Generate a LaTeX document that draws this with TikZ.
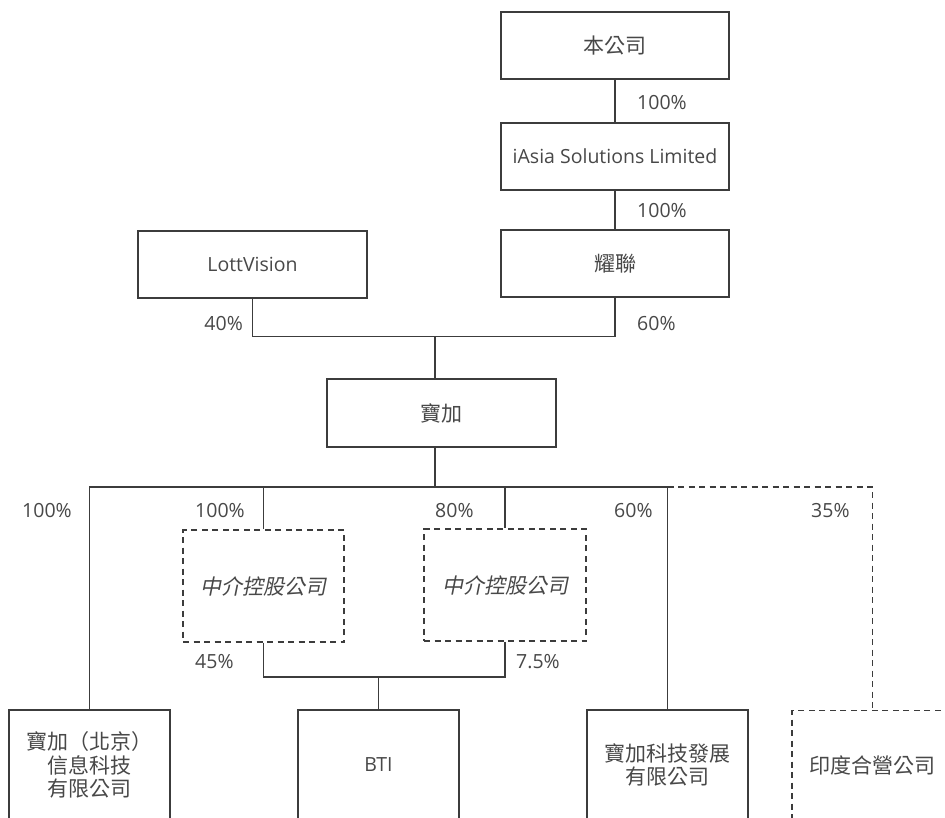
\documentclass[tikz,border=0pt]{standalone}
\usepackage{fontspec}
\setmainfont{Open Sans}
\newfontfamily\cjk{Noto Sans CJK TC}
\newfontfamily\cjkit{Noto Sans CJK TC}[FakeSlant=0.2]
\definecolor{linec}{RGB}{60,60,60}
\definecolor{textc}{RGB}{72,72,72}
\tikzset{
  box/.style={draw=linec, line width=1.1pt, rectangle, inner sep=0pt, text=textc, align=center,
              font=\cjk\fontsize{21}{23.5}\selectfont},
  latinbox/.style={box, font=\fontsize{19.5}{23}\selectfont},
  topbox/.style={minimum width=228pt, minimum height=67pt},
  midbox/.style={minimum width=161pt, minimum height=112pt},
  lowbox/.style={minimum width=161pt, minimum height=110pt},
  dashbox/.style={dash pattern=on 6pt off 4.5pt},
  italicbox/.style={font=\cjkit\fontsize{21}{23.5}\selectfont},
  conn/.style={draw=linec, line width=1.1pt},
  dconn/.style={conn, dash pattern=on 6pt off 4.5pt},
  pct/.style={inner sep=0pt, text=textc, font=\fontsize{19.5}{23}\selectfont}
}
\begin{document}
\begin{tikzpicture}[x=1pt,y=-1pt]
\useasboundingbox (0,0) rectangle (945,817);
\fill[white] (0,0) rectangle (945,817);
\clip (0,0) rectangle (945,817);

% top chain
\node[box, topbox] (top) at (615,45.5) {本公司};
\node[latinbox, topbox] (ia) at (615,156.5) {iAsia Solutions Limited};
\node[box, topbox] (yl) at (615,263.5) {耀聯};
\node[latinbox, topbox, minimum width=229pt] (lott) at (252.5,264.5) {LottVision};
\node[box, minimum width=229pt, minimum height=68pt] (bj) at (441.5,413) {寶加};

% intermediate holding companies
\node[box, midbox, dashbox, italicbox] (d1) at (263.5,586) {中介控股公司};
\node[box, midbox, dashbox, italicbox, minimum width=162pt] (d2) at (505,585) {中介控股公司};

% bottom row
\node[box, lowbox] (b1) at (89.5,765) {寶加（北京）\\信息科技\\有限公司};
\node[latinbox, lowbox] (bti) at (378.5,765) {BTI};
\node[box, lowbox] (b3) at (667.5,765) {寶加科技發展\\有限公司};
\node[box, lowbox, dashbox] (b4) at (872.5,765.5) {印度合營公司};

% connectors
\coordinate (j1) at (435,336.5);
\coordinate (bus) at (435,487);
\coordinate (j2) at (378.5,677);

\draw[conn] (top) -- (ia);
\draw[conn] (ia) -- (yl);
\draw[conn] (lott.south) |- (j1) -| (yl.south);
\draw[conn] (j1) -- (j1 |- bj.north);
\draw[conn] (bus |- bj.south) -- (bus);
\draw[conn] (b1.north) |- (b3.north |- bus) -- (b3.north);
\draw[dconn] (b3.north |- bus) -| (b4.north);
\draw[conn] (d1.north |- bus) -- (d1.north);
\draw[conn] (d2.north |- bus) -- (d2.north);
\draw[conn] (d1.south) |- (j2) -| (d2.south);
\draw[conn] (j2) -- (bti.north);

% percentages
\node[pct, anchor=base west] (p1) at (637,109) {100\%};
\node[pct, anchor=base west] (p2) at (637,217) {100\%};
\node[pct, anchor=base east] (p3) at (243,330) {40\%};
\node[pct, anchor=base west] (p4) at (637,330) {60\%};
\node[pct, anchor=base west] (p5) at (22,517) {100\%};
\node[pct, anchor=base west] (p6) at (195,517) {100\%};
\node[pct, anchor=base west] (p7) at (435,517) {80\%};
\node[pct, anchor=base west] (p8) at (614,517) {60\%};
\node[pct, anchor=base west] (p9) at (811,517) {35\%};
\node[pct, anchor=base west] (p10) at (195,668) {45\%};
\node[pct, anchor=base west] (p11) at (516,668) {7.5\%};
\end{tikzpicture}
\end{document}
